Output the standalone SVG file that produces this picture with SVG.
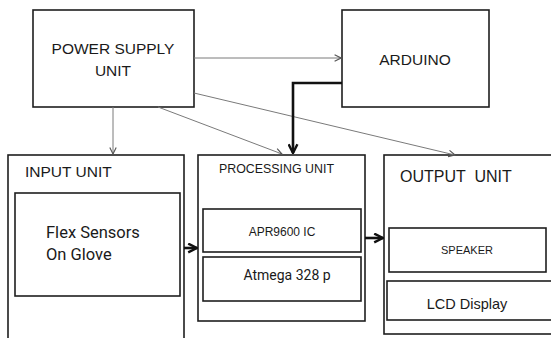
<svg xmlns="http://www.w3.org/2000/svg" width="551" height="338" viewBox="0 0 551 338">
<defs>
<style>
.box{fill:#fff;stroke:#1e1e1e;stroke-width:1.6}
.t{font-family:"Liberation Sans",Arial,sans-serif;fill:#1a1a1a}
.r{font-family:Roboto,"Liberation Sans",sans-serif;fill:#1a1a1a}
.thin{fill:none;stroke:#7a7a7a;stroke-width:1}
.thick{fill:none;stroke:#111;stroke-width:2.6}
</style>
<marker id="ah" viewBox="0 0 10 10" refX="9" refY="5" markerWidth="8" markerHeight="8" markerUnits="userSpaceOnUse" orient="auto">
<path d="M1,1 L9,5 L1,9" fill="none" stroke="#555" stroke-width="1.4"/>
</marker>
<marker id="ahb" viewBox="0 0 10 10" refX="9" refY="5" markerWidth="11" markerHeight="11" markerUnits="userSpaceOnUse" orient="auto">
<path d="M1,1 L9,5 L1,9" fill="none" stroke="#111" stroke-width="2.2"/>
</marker>
</defs>
<rect width="551" height="338" fill="#fff"/>

<g id="psu">
<rect class="box" x="33" y="10" width="161" height="97"/>
<text class="t" x="113" y="54" font-size="15.5" text-anchor="middle">POWER SUPPLY</text>
<text class="t" x="113" y="76" font-size="15.5" text-anchor="middle">UNIT</text>
</g>

<g id="arduino">
<rect class="box" x="342" y="10" width="147" height="97"/>
<text class="t" x="415" y="65" font-size="15.5" text-anchor="middle">ARDUINO</text>
</g>

<g id="input">
<rect class="box" x="8" y="155" width="176" height="200"/>
<text class="t" x="25" y="177" font-size="15.5">INPUT UNIT</text>
</g>
<g id="flex">
<rect class="box" x="15" y="193" width="165" height="103"/>
<text class="r" x="46" y="238" font-size="16.5">Flex Sensors</text>
<text class="r" x="46" y="260" font-size="16.5">On Glove</text>
</g>

<g id="processing">
<rect class="box" x="198" y="155" width="167" height="166"/>
<text class="t" x="219" y="173" font-size="12.4">PROCESSING UNIT</text>
</g>
<g id="apr">
<rect class="box" x="203" y="209" width="158" height="43"/>
<text class="t" x="282" y="236" font-size="12" text-anchor="middle">APR9600 IC</text>
</g>
<g id="atmega">
<rect class="box" x="203" y="257" width="158" height="44"/>
<text class="r" x="287" y="280" font-size="14" text-anchor="middle">Atmega 328 p</text>
</g>

<g id="output">
<rect class="box" x="384" y="155" width="170" height="179"/>
<text class="t" x="400" y="182" font-size="16" xml:space="preserve">OUTPUT  UNIT</text>
</g>
<g id="speaker">
<rect class="box" x="389" y="228" width="157" height="44"/>
<text class="t" x="467" y="254" font-size="11" text-anchor="middle">SPEAKER</text>
</g>
<g id="lcd">
<rect class="box" x="387" y="281" width="166" height="39"/>
<text class="t" x="467" y="309" font-size="14.5" text-anchor="middle">LCD Display</text>
</g>

<g id="connectors">
<line class="thin" x1="194" y1="58" x2="341" y2="58" marker-end="url(#ah)"/>
<line class="thin" x1="113" y1="107" x2="113" y2="154" marker-end="url(#ah)"/>
<line class="thin" x1="158" y1="107" x2="282" y2="154" marker-end="url(#ah)"/>
<line class="thin" x1="194" y1="93" x2="455" y2="155" marker-end="url(#ah)"/>
<polyline class="thick" points="342,83 293,83 293,153" marker-end="url(#ahb)"/>
<line class="thick" x1="184" y1="248" x2="197" y2="248" marker-end="url(#ahb)"/>
<line class="thick" x1="365" y1="238" x2="383" y2="238" marker-end="url(#ahb)"/>
</g>
</svg>
